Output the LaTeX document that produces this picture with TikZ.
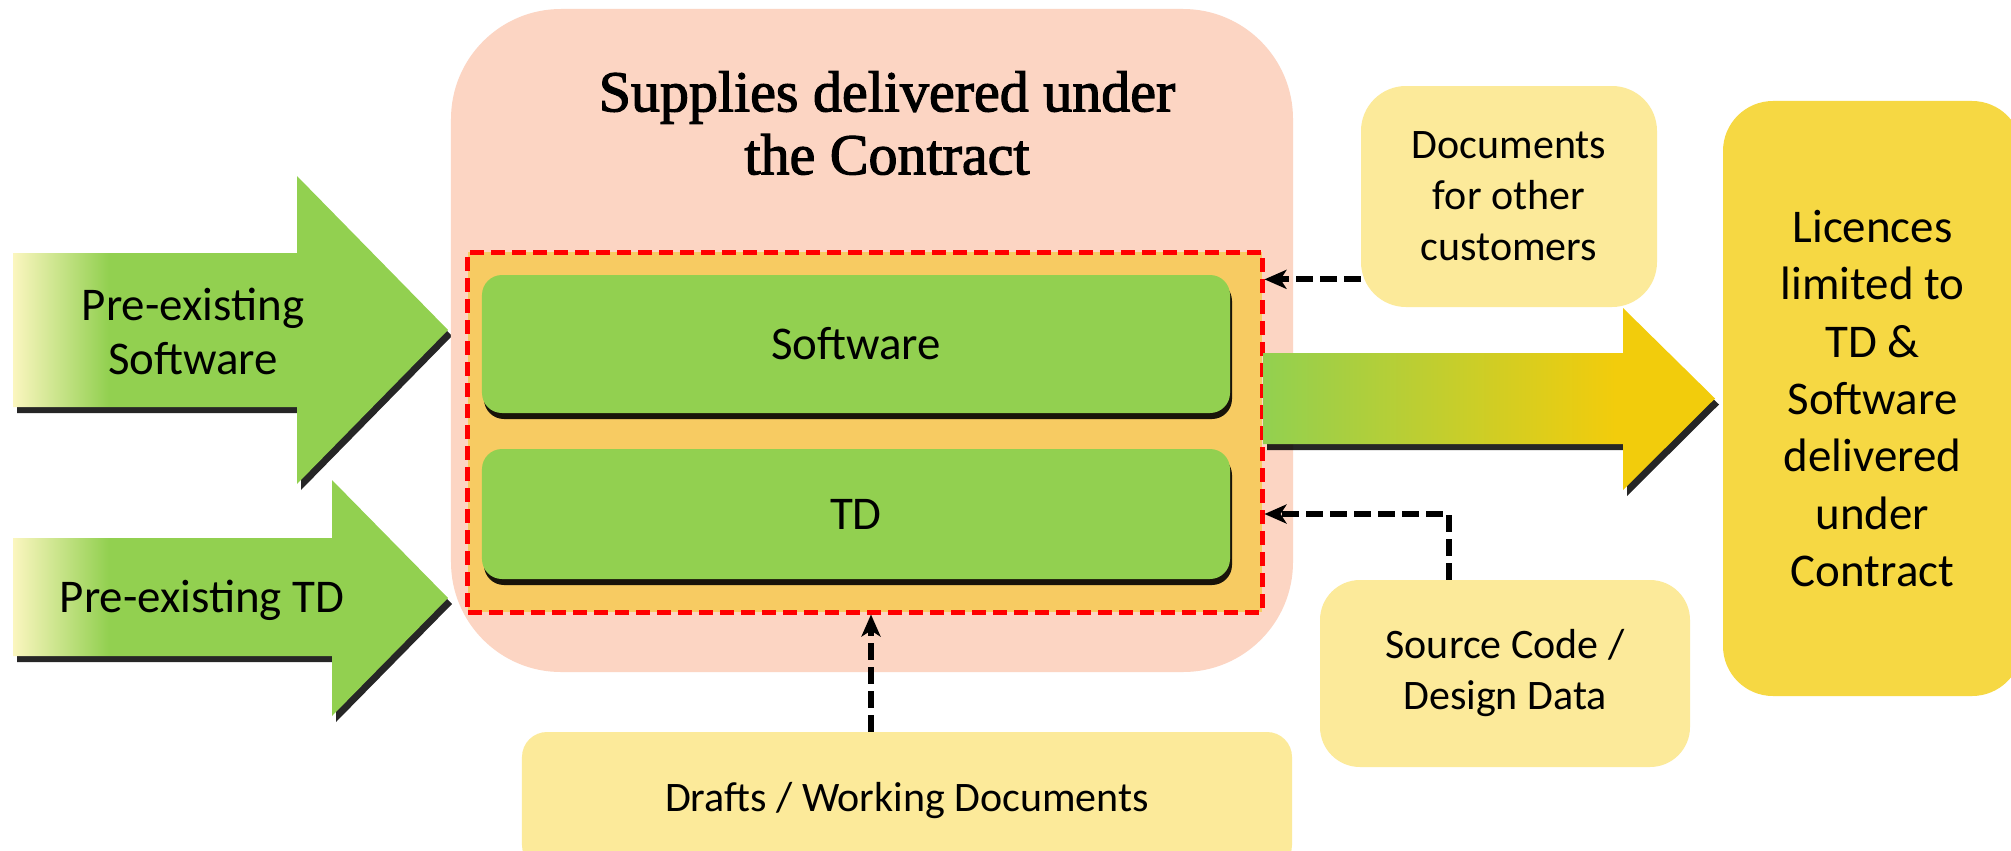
\documentclass[tikz,border=0pt]{standalone}
\usepackage{fontspec}
\setmainfont{Carlito}
\newfontfamily\titlefont{Liberation Serif}
\usetikzlibrary{arrows.meta,shadows}
\definecolor{peach}{HTML}{FCD5C3}
\definecolor{amber}{HTML}{F7CB62}
\definecolor{leaf}{HTML}{92D050}
\definecolor{cream}{HTML}{FBF6BF}
\definecolor{gold}{HTML}{F2CC0C}
\definecolor{paleyellow}{HTML}{FCEA9A}
\definecolor{sunyellow}{HTML}{F6D843}
\pgfdeclarehorizontalshading{greenfade}{100bp}{color(0bp)=(cream); color(25bp)=(cream); color(36bp)=(leaf); color(100bp)=(leaf)}
\pgfdeclarehorizontalshading{goldfade}{100bp}{color(0bp)=(leaf); color(25bp)=(leaf); color(64bp)=(gold); color(100bp)=(gold)}
\begin{document}
\begin{tikzpicture}[x=0.2mm, y=-0.2mm,
  panel/.style={inner sep=0pt, align=center, rounded corners=4mm},
  item/.style={panel, fill=leaf, minimum width=149.6mm, font=\fontsize{26.7}{32.7}\selectfont,
    drop shadow={shadow xshift=0.4mm, shadow yshift=-1.2mm, fill=black, opacity=0.9}},
  note/.style={panel, fill=paleyellow, font=\fontsize{23.9}{29}\selectfont},
  bigarrow/.style={drop shadow={shadow xshift=0.8mm, shadow yshift=-1.2mm, fill=black, opacity=0.85}},
  link/.style={line width=1.2mm, dash pattern=on 3.4mm off 1.4mm, -{Stealth[length=4.4mm, width=3.8mm, inset=1.2mm]}}]
\useasboundingbox[fill=white] (0,0) rectangle (2011,851);

\shade[shading=greenfade, bigarrow] (13,253) -- (297,253) -- (297,176) -- (448,330) -- (297,484) -- (297,407) -- (13,407) -- cycle;
\shade[shading=greenfade, bigarrow] (13,538) -- (332,538) -- (332,480) -- (448,598) -- (332,716) -- (332,656) -- (13,656) -- cycle;
\node[font=\fontsize{26.7}{30.7}\selectfont, align=center] (presw) at (193,331) {Pre-existing\\Software};
\node[font=\fontsize{26.7}{30.7}\selectfont] (pretd) at (202,600) {Pre-existing TD};

\node[panel, fill=peach, rounded corners=22mm, minimum width=168.4mm, minimum height=132.6mm] (supplies) at (872,340.5) {};
\node[font=\titlefont\fontsize{33}{35.8}\selectfont\addfontfeature{FakeBold=2}, align=center] (title) at (887,123) {Supplies delivered under\\the Contract};
\node[draw=red, fill=amber, line width=1mm, dash pattern=on 2.8mm off 1.4mm, inner sep=0pt, minimum width=158.8mm, minimum height=72mm] (frame) at (865,432) {};
\node[item, minimum height=27.6mm] (sw) at (856,344) {Software};
\node[item, minimum height=26mm] (td) at (856,514) {TD};

\shade[shading=goldfade, bigarrow] (1263,353) -- (1623,353) -- (1623,308) -- (1715,398.5) -- (1623,490) -- (1623,444) -- (1263,444) -- cycle;

\node[panel, fill=sunyellow, rounded corners=10mm, minimum width=59.8mm, minimum height=119mm, font=\fontsize{26.7}{32.7}\selectfont] (lic) at (1872.5,398.5) {Licences\\limited to\\TD \&\\Software\\delivered\\under\\Contract};
\node[note, rounded corners=9mm, minimum width=59.2mm, minimum height=44.2mm] (docs) at (1509,196.5) {Documents\\for other\\customers};
\node[note, rounded corners=8mm, minimum width=74mm, minimum height=37.4mm] (src) at (1505,673.5) {Source Code /\\Design Data};
\node[note, rounded corners=5mm, minimum width=154mm, minimum height=27.6mm] (drafts) at (907,801) {Drafts / Working Documents};

\draw[link] ([yshift=5.6mm]docs.south west) coordinate (d) -- (d -| frame.east);
\draw[link] ([xshift=-11.2mm]src.north) |- (frame.east |- td);
\draw[link] ([xshift=-7.2mm]drafts.north) coordinate (w) -- (w |- frame.south);
\end{tikzpicture}
\end{document}
